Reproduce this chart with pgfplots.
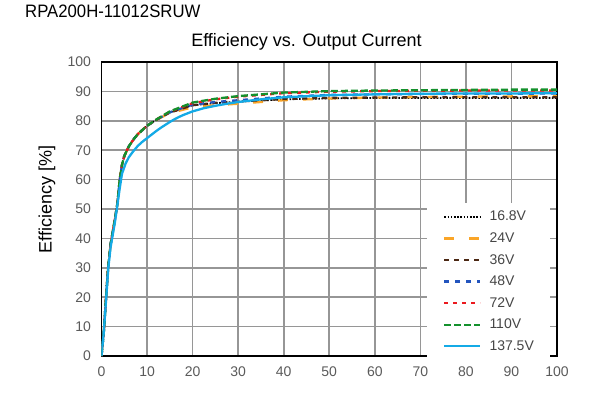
\documentclass[border=0pt]{standalone}
\usepackage{fontspec}
\setmainfont{Liberation Sans}
\newfontfamily\narrowfont{Liberation Sans}[FakeStretch=0.93]
\usepackage{pgfplots}
\pgfplotsset{compat=1.18}
\definecolor{gridgray}{RGB}{150,150,150}
\definecolor{labgray}{RGB}{90,90,90}
\definecolor{legtext}{RGB}{70,70,70}
\definecolor{c24}{RGB}{250,165,40}
\definecolor{c36}{RGB}{75,40,20}
\definecolor{c48}{RGB}{35,85,190}
\definecolor{c72}{RGB}{235,25,30}
\definecolor{c110}{RGB}{20,145,45}
\definecolor{c137}{RGB}{20,170,230}
\begin{document}
\begin{tikzpicture}
\useasboundingbox (-101.5pt,-38pt) rectangle (498.5pt,356pt);
\begin{axis}[
  at={(0pt,0pt)}, anchor=south west,
  scale only axis, width=455.5pt, height=294pt,
  xmin=0, xmax=100, ymin=0, ymax=100,
  xtick={0,10,...,100}, ytick={0,10,...,100},
  grid=major, grid style={gridgray, line width=1.6pt},
  axis line style={black, line width=1.8pt},
  tick style={gridgray, line width=1.6pt},
  major tick length=8pt, tick align=inside,
  /pgf/number format/assume math mode=true,
  ticklabel style={font=\fontsize{14}{16}\selectfont, text=labgray},
  yticklabel style={xshift=-7pt},
  xticklabel style={yshift=-7pt},
  ylabel={Efficiency [\%]},
  ylabel style={at={(axis description cs:-0.1196,0.5323)}, anchor=center, font=\fontsize{18}{20}\selectfont, text=black},
  legend style={at={(axis description cs:0.7146,0.5204)}, anchor=north west,
    draw=none, fill=white, font=\fontsize{14}{16}\selectfont, text=legtext,
    inner xsep=16pt, inner ysep=8pt, row sep=10.3pt, column sep=8pt,
    nodes={inner sep=0pt}},
  legend cell align=left,
  legend image code/.code={\draw[#1] (0pt,0pt) -- (36pt,0pt);},
  every axis plot/.append style={line width=2.3pt},
]
\addplot[black, line width=1.8pt, dash pattern=on 1.6pt off 1.6pt] coordinates {
(0,0) (0.5,8) (1,20) (1.5,31) (2,38) (3,47) (3.5,52) (4,60) (4.5,65) (5,68) (6,71.3) (7,73.6) (8,75.5) (10,78.3) (12,80.3) (15,82.8)
(20,85.3) (25,86.0) (30,86.5) (40,87.3) (50,87.6) (60,87.8) (70,87.8) (80,87.8) (90,87.8) (100,87.8)};
\addlegendentry{16.8V}
\addplot[c24, dash pattern=on 10pt off 15pt] coordinates {
(0,0) (0.5,8) (1,20) (1.5,31) (2,38) (3,47) (3.5,52) (4,60) (4.5,65) (5,68) (6,71.3) (7,73.6) (8,75.5) (10,78.3) (12,80.3) (15,82.6)
(20,84.6) (25,85.3) (30,85.8) (40,87.0) (50,87.6) (60,87.9) (70,88.1) (80,88.2) (90,88.3) (100,88.3)};
\addlegendentry{24V}
\addplot[c36, dash pattern=on 5pt off 5pt] coordinates {
(0,0) (0.5,8) (1,20) (1.5,31) (2,38) (3,47) (3.5,52) (4,60) (4.5,65) (5,68) (6,71.3) (7,73.6) (8,75.5) (10,78.3) (12,80.3) (15,82.8)
(20,85.3) (25,86.1) (30,86.6) (40,87.4) (50,87.8) (60,87.9) (70,88.0) (80,88.0) (90,88.0) (100,88.0)};
\addlegendentry{36V}
\addplot[c48, dash pattern=on 5pt off 6pt] coordinates {
(0,0) (0.5,8) (1,20) (1.5,31) (2,38) (3,47) (3.5,52) (4,60) (4.5,65) (5,68) (6,71.3) (7,73.6) (8,75.5) (10,78.3) (12,80.3) (15,82.9)
(20,85.5) (25,86.4) (30,87.0) (40,88.2) (50,88.8) (60,89.0) (70,89.1) (80,89.2) (90,89.2) (100,89.3)};
\addlegendentry{48V}
\addplot[c72, dash pattern=on 4pt off 5pt] coordinates {
(0,0) (0.5,8) (1,20) (1.5,31) (2,38) (3,47) (3.5,52) (4,60) (4.5,65) (5,68) (6,71.3) (7,73.6) (8,75.5) (10,78.3) (12,80.4) (15,83.1)
(20,86.0) (25,87.3) (30,88.2) (40,89.4) (50,89.9) (60,90.1) (70,90.2) (80,90.3) (90,90.3) (100,90.3)};
\addlegendentry{72V}
\addplot[c110, dash pattern=on 7pt off 3pt] coordinates {
(0,0) (0.5,8) (1,20) (1.5,31) (2,38) (3,47) (3.5,52) (4,60) (4.5,65) (5,68) (6,71.3) (7,73.6) (8,75.5) (10,78.3) (12,80.4) (15,83.2)
(20,86.2) (25,87.5) (30,88.4) (40,89.6) (50,90.1) (60,90.3) (70,90.4) (80,90.5) (90,90.6) (100,90.6)};
\addlegendentry{110V}
\addplot[c137] coordinates {
(0,0) (0.5,8) (1,19) (1.5,30) (2,37) (3,46) (4,57) (4.5,62) (5.3,65.5) (6,67.6) (7,69.7) (8,71.5) (9,72.9) (10,74.1) (11,75.3) (12,76.5) (13,77.6) (14,78.6) (15,79.6) (16,80.5) (17,81.3) (18,82.0) (19,82.6)
(20,83.2) (22.5,84.3) (25,85.1) (27.5,85.8) (30,86.4) (35,87.3) (40,88.0) (50,88.7) (60,89.0) (70,89.2) (80,89.3) (90,89.3) (100,89.4)};
\addlegendentry{137.5V}
\end{axis}
\node[anchor=base west, inner sep=0pt, font=\narrowfont\fontsize{18}{20}\selectfont] at (-76.5pt,338pt) {RPA200H-11012SRUW};
\node[anchor=base, inner sep=0pt, font=\fontsize{18}{20}\selectfont] at (205pt,309pt) {Efficiency vs. Output Current};
\end{tikzpicture}
\end{document}
